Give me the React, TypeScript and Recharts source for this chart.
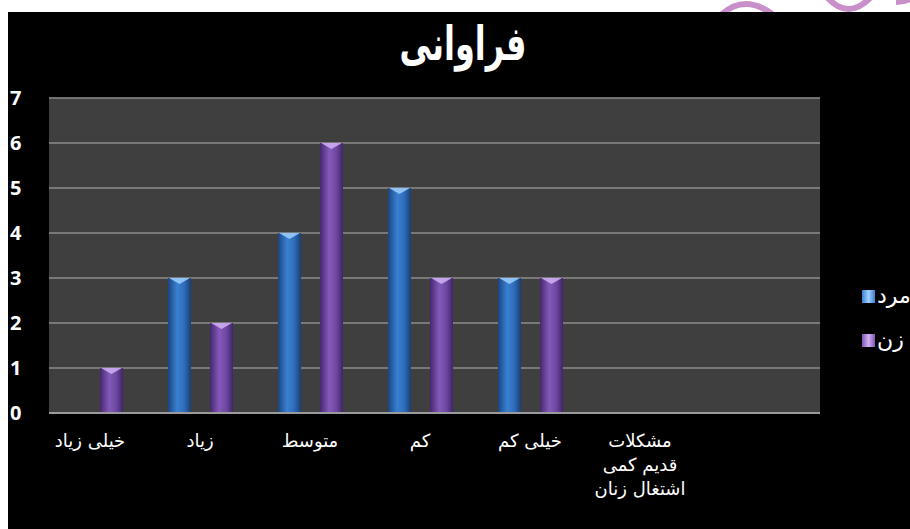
import { BarChart, Bar, XAxis, YAxis, CartesianGrid } from 'recharts'

const CATEGORIES = [
  'خیلی زیاد',
  'زیاد',
  'متوسط',
  'کم',
  'خیلی کم',
  'مشکلات\nقدیم کمی\nاشتغال زنان',
  '',
]
const MEN = [0, 3, 4, 5, 3, 0, 0]
const WOMEN = [1, 2, 6, 3, 3, 0, 0]
const Y_TICKS = [0, 1, 2, 3, 4, 5, 6, 7]
const SERIES = [
  { key: 'men', name: 'مرد', grad: 'gradBlue', cap: '#9fd0ff', swatch: '#3a7fd0' },
  { key: 'women', name: 'زن', grad: 'gradPurple', cap: '#d2b2f5', swatch: '#7f55b3' },
]

const data = CATEGORIES.map((name, i) => ({ name, men: MEN[i], women: WOMEN[i] }))

const ARABIC = '"DejaVu Sans", sans-serif'

function makeShape(grad: string, cap: string) {
  // eslint-disable-next-line @typescript-eslint/no-explicit-any
  return (props: any) => {
    const { x, y, width, height } = props
    if (!height || height <= 0) return <g />
    return (
      <g>
        <rect x={x} y={y} width={width} height={height} fill={`url(#${grad})`} />
        <polygon
          points={`${x + 1},${y} ${x + width - 1},${y} ${x + width / 2},${y + 6}`}
          fill={cap}
          opacity={0.85}
        />
      </g>
    )
  }
}

// eslint-disable-next-line @typescript-eslint/no-explicit-any
function CategoryTick({ x, y, payload }: any) {
  const lines = String(payload.value).split('\n')
  return (
    <text x={x} y={y} fill="#fff" fontSize={18} fontFamily={ARABIC} textAnchor="middle">
      {lines.map((l, i) => (
        <tspan key={i} x={x} dy={i === 0 ? 26 : 24}>
          {l}
        </tspan>
      ))}
    </text>
  )
}

// eslint-disable-next-line @typescript-eslint/no-explicit-any
function ValueTick({ y, payload }: any) {
  return (
    <text
      x={2}
      y={y}
      dy={7}
      fill="#fff"
      fontSize={20}
      fontWeight={700}
      fontFamily='"Open Sans", sans-serif'
    >
      {payload.value}
    </text>
  )
}

function LegendBox() {
  return (
    <div style={{ position: 'absolute', left: 854, top: 273, width: 80, height: 70 }}>
      {SERIES.map((s, i) => (
        <div
          key={s.key}
          style={{
            position: 'absolute',
            left: 0,
            top: i * 44,
            display: 'flex',
            alignItems: 'center',
            whiteSpace: 'nowrap',
          }}
        >
          <span
            style={{
              display: 'inline-block',
              width: 13,
              height: 13,
              background: `linear-gradient(90deg, ${s.swatch}, ${s.cap}, ${s.swatch})`,
              marginRight: 2,
            }}
          />
          <span style={{ color: '#fff', fontSize: 22, fontFamily: ARABIC, lineHeight: '22px' }}>
            {s.name}
          </span>
        </div>
      ))}
    </div>
  )
}

export default function App() {
  return (
    <div
      style={{
        position: 'relative',
        width: 910,
        height: 529,
        background: '#fff',
        overflow: 'hidden',
      }}
    >
      <style>{`body{margin:0}`}</style>
      {/* watermark peeking above the slide */}
      <svg width={910} height={529} style={{ position: 'absolute', left: 0, top: 0 }}>
        <g fill="none" stroke="#c88fca" strokeWidth={6}>
          <path d="M 722 14 Q 745 -6 772 14" />
          <path d="M 826 -4 Q 848 22 872 -4" />
          <path d="M 896 2 Q 904 2 912 -2" />
        </g>
      </svg>
      <div
        style={{
          position: 'absolute',
          left: 8,
          top: 12,
          width: 902,
          height: 517,
          background: '#000',
          overflow: 'hidden',
        }}
      >
        <div
          style={{
            position: 'absolute',
            left: 0,
            top: 2,
            width: 902,
            textAlign: 'center',
            color: '#fff',
            fontFamily: ARABIC,
            fontWeight: 700,
            fontSize: 47,
            lineHeight: '60px',
            transform: 'scaleX(0.68)',
            paddingLeft: 12,
            boxSizing: 'border-box',
          }}
        >
          فراوانی
        </div>
        <BarChart
          width={902}
          height={517}
          data={data}
          margin={{ top: 86, right: 90, left: 0, bottom: 16 }}
          barSize={23}
          barGap={19}
        >
          <defs>
            <linearGradient id="gradBlue" x1="0" y1="0" x2="1" y2="0">
              <stop offset="0%" stopColor="#1b4580" />
              <stop offset="40%" stopColor="#3a80d2" />
              <stop offset="70%" stopColor="#2f6dba" />
              <stop offset="100%" stopColor="#183f78" />
            </linearGradient>
            <linearGradient id="gradPurple" x1="0" y1="0" x2="1" y2="0">
              <stop offset="0%" stopColor="#45276f" />
              <stop offset="40%" stopColor="#845ab9" />
              <stop offset="70%" stopColor="#6f48a2" />
              <stop offset="100%" stopColor="#40246a" />
            </linearGradient>
          </defs>
          <CartesianGrid
            vertical={false}
            fill="#3f3f3f"
            stroke="#8e8e8e"
            strokeWidth={1.5}
          />
          <XAxis
            dataKey="name"
            interval={0}
            height={100}
            padding={{ left: -14, right: 15 }}
            axisLine={{ stroke: '#9a9a9a', strokeWidth: 2 }}
            tickLine={false}
            tick={<CategoryTick />}
          />
          <YAxis
            width={41}
            domain={[0, 7]}
            ticks={Y_TICKS}
            interval={0}
            axisLine={false}
            tickLine={false}
            tick={<ValueTick />}
          />
          {SERIES.map((s) => (
            <Bar
              key={s.key}
              dataKey={s.key}
              name={s.name}
              fill={s.swatch}
              isAnimationActive={false}
              shape={makeShape(s.grad, s.cap)}
            />
          ))}
        </BarChart>
        <LegendBox />
      </div>
    </div>
  )
}
